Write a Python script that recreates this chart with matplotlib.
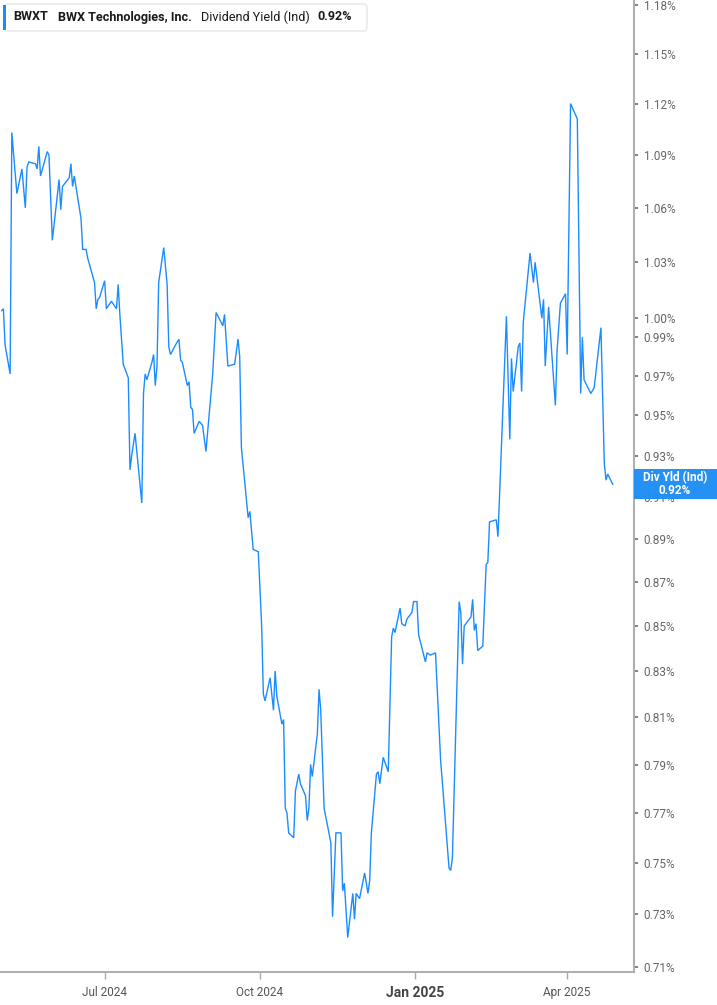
import pandas as pd
import matplotlib
matplotlib.use('Agg')
import matplotlib.pyplot as plt
import matplotlib.dates as mdates
from matplotlib.patches import Rectangle, FancyBboxPatch
from matplotlib.ticker import FixedLocator, NullLocator

# BWXT dividend yield (indicated)
dates = [
    '2024-05-01', '2024-05-02', '2024-05-03', '2024-05-06', '2024-05-07', '2024-05-10',
    '2024-05-13', '2024-05-15', '2024-05-16', '2024-05-17', '2024-05-21', '2024-05-22',
    '2024-05-23', '2024-05-24', '2024-05-28', '2024-05-29', '2024-05-31', '2024-06-04',
    '2024-06-05', '2024-06-06', '2024-06-10', '2024-06-11', '2024-06-12', '2024-06-13',
    '2024-06-17', '2024-06-18', '2024-06-20', '2024-06-21', '2024-06-25', '2024-06-26',
    '2024-06-27', '2024-06-28', '2024-07-01', '2024-07-02', '2024-07-05', '2024-07-08',
    '2024-07-09', '2024-07-10', '2024-07-12', '2024-07-15', '2024-07-16', '2024-07-17',
    '2024-07-19', '2024-07-23', '2024-07-24', '2024-07-25', '2024-07-26', '2024-07-29',
    '2024-07-30', '2024-07-31', '2024-08-01', '2024-08-02', '2024-08-05', '2024-08-07',
    '2024-08-08', '2024-08-09', '2024-08-12', '2024-08-14', '2024-08-15', '2024-08-16',
    '2024-08-19', '2024-08-20', '2024-08-21', '2024-08-22', '2024-08-23', '2024-08-26',
    '2024-08-28', '2024-08-30', '2024-09-03', '2024-09-05', '2024-09-09', '2024-09-10',
    '2024-09-12', '2024-09-16', '2024-09-18', '2024-09-19', '2024-09-20', '2024-09-24',
    '2024-09-25', '2024-09-27', '2024-09-30', '2024-10-02', '2024-10-03', '2024-10-04',
    '2024-10-07', '2024-10-09', '2024-10-10', '2024-10-11', '2024-10-14', '2024-10-15',
    '2024-10-16', '2024-10-17', '2024-10-18', '2024-10-21', '2024-10-22', '2024-10-24',
    '2024-10-25', '2024-10-28', '2024-10-29', '2024-10-30', '2024-10-31', '2024-11-01',
    '2024-11-04', '2024-11-05', '2024-11-06', '2024-11-08', '2024-11-12', '2024-11-13',
    '2024-11-15', '2024-11-18', '2024-11-19', '2024-11-20', '2024-11-22', '2024-11-25',
    '2024-11-26', '2024-11-27', '2024-11-29', '2024-12-02', '2024-12-04', '2024-12-05',
    '2024-12-06', '2024-12-09', '2024-12-10', '2024-12-11', '2024-12-13', '2024-12-16',
    '2024-12-18', '2024-12-19', '2024-12-20', '2024-12-23', '2024-12-24', '2024-12-26',
    '2024-12-27', '2024-12-30', '2024-12-31', '2025-01-02', '2025-01-03', '2025-01-07',
    '2025-01-08', '2025-01-10', '2025-01-13', '2025-01-16', '2025-01-21', '2025-01-22',
    '2025-01-23', '2025-01-27', '2025-01-28', '2025-01-29', '2025-01-30', '2025-02-03',
    '2025-02-04', '2025-02-05', '2025-02-06', '2025-02-07', '2025-02-10', '2025-02-12',
    '2025-02-13', '2025-02-14', '2025-02-18', '2025-02-19', '2025-02-20', '2025-02-24',
    '2025-02-26', '2025-02-27', '2025-02-28', '2025-03-03', '2025-03-04', '2025-03-05',
    '2025-03-06', '2025-03-10', '2025-03-12', '2025-03-13', '2025-03-17', '2025-03-18',
    '2025-03-19', '2025-03-21', '2025-03-25', '2025-03-26', '2025-03-28', '2025-03-31',
    '2025-04-01', '2025-04-03', '2025-04-07', '2025-04-09', '2025-04-10', '2025-04-11',
    '2025-04-15', '2025-04-17', '2025-04-21', '2025-04-23', '2025-04-24', '2025-04-25',
    '2025-04-28',
]
yields = [
    1.004, 1.005, 0.986, 0.971, 1.103, 1.068,
    1.082, 1.060, 1.083, 1.086, 1.085, 1.082,
    1.095, 1.078, 1.092, 1.090, 1.042, 1.076,
    1.059, 1.072, 1.077, 1.085, 1.072, 1.078,
    1.054, 1.037, 1.037, 1.032, 1.019, 1.005,
    1.010, 1.011, 1.020, 1.005, 1.009, 1.005,
    1.018, 1.002, 0.976, 0.969, 0.923, 0.930,
    0.941, 0.907, 0.961, 0.971, 0.968, 0.977,
    0.981, 0.965, 0.975, 1.019, 1.038, 1.018,
    0.985, 0.981, 0.986, 0.989, 0.978, 0.977,
    0.965, 0.967, 0.954, 0.953, 0.941, 0.947,
    0.945, 0.932, 0.971, 1.003, 0.996, 1.002,
    0.975, 0.976, 0.989, 0.980, 0.934, 0.900,
    0.903, 0.885, 0.884, 0.850, 0.820, 0.817,
    0.827, 0.813, 0.830, 0.819, 0.807, 0.809,
    0.772, 0.770, 0.762, 0.760, 0.779, 0.786,
    0.782, 0.777, 0.767, 0.772, 0.790, 0.785,
    0.803, 0.822, 0.813, 0.772, 0.758, 0.729,
    0.762, 0.762, 0.739, 0.742, 0.721, 0.738,
    0.728, 0.738, 0.736, 0.746, 0.738, 0.743,
    0.762, 0.786, 0.787, 0.782, 0.793, 0.787,
    0.845, 0.849, 0.847, 0.858, 0.851, 0.850,
    0.853, 0.856, 0.861, 0.861, 0.846, 0.834,
    0.838, 0.837, 0.838, 0.792, 0.748, 0.747,
    0.752, 0.861, 0.856, 0.833, 0.850, 0.854,
    0.862, 0.848, 0.851, 0.839, 0.841, 0.878,
    0.879, 0.898, 0.899, 0.891, 0.912, 1.001,
    0.938, 0.979, 0.962, 0.985, 0.987, 0.962,
    0.998, 1.035, 1.019, 1.030, 1.000, 1.010,
    0.975, 1.006, 0.955, 0.983, 1.008, 1.013,
    0.981, 1.120, 1.111, 0.961, 0.990, 0.968,
    0.961, 0.964, 0.995, 0.926, 0.918, 0.921,
    0.916,
]
ytick_vals = [0.71, 0.73, 0.75, 0.77, 0.79, 0.81, 0.83, 0.85, 0.87, 0.89, 0.91,
              0.93, 0.95, 0.97, 0.99, 1.00, 1.03, 1.06, 1.09, 1.12, 1.15, 1.18]
xtick_dates = ['2024-07-01', '2024-10-01', '2025-01-01', '2025-04-01']
xtick_labels = ['Jul 2024', 'Oct 2024', 'Jan 2025', 'Apr 2025']

plt.rcParams['font.family'] = ['Roboto', 'DejaVu Sans']

W, H = 717, 1005
fig = plt.figure(figsize=(W / 100, H / 100), dpi=100)
ax = fig.add_axes([0, 1 - 972 / H, 634 / W, 972 / H])

x = pd.to_datetime(dates)
ax.plot(x, yields, color='#1a8cff', lw=1.0, solid_joinstyle='miter')

ax.set_yscale('log')
ax.set_ylim(0.708, 1.183)
ax.set_xlim(pd.Timestamp('2024-04-30'), pd.Timestamp('2025-05-10 14:00'))

# y axis on the right
ax.yaxis.tick_right()
ax.yaxis.set_major_locator(FixedLocator(ytick_vals))
ax.yaxis.set_minor_locator(NullLocator())
ax.set_yticklabels([f'{v:.2f}%' for v in ytick_vals])
ax.tick_params(axis='y', which='both', length=3, width=1.3, color='#777777',
               labelcolor='#666666', labelsize=8.5, pad=4)

# x axis
ax.set_xticks(pd.to_datetime(xtick_dates))
ax.set_xticklabels(xtick_labels)
ax.tick_params(axis='x', length=5, width=1, color='#aaaaaa', labelcolor='#555555',
               labelsize=8.5, pad=5)
for lab in ax.get_xticklabels():
    if lab.get_text().startswith('Jan'):
        lab.set_fontweight('bold')
        lab.set_fontsize(10)
        lab.set_color('#444444')

for s in ['top', 'left']:
    ax.spines[s].set_visible(False)
for s in ['right', 'bottom']:
    ax.spines[s].set_color('#b0b0b0')
    ax.spines[s].set_linewidth(1.5)

# header box
hdr = FancyBboxPatch((4 / W, 1 - 31 / H), 363 / W, 27 / H,
                     boxstyle='round,pad=0,rounding_size=0.004',
                     transform=fig.transFigure, fc='white', ec='#e6e6e6', lw=1)
fig.add_artist(hdr)
fig.add_artist(Rectangle((3 / W, 1 - 30 / H), 3 / W, 25 / H, transform=fig.transFigure,
                         fc='#1a8cff', ec='none'))
ty = 1 - 17 / H
fs = 9.1
fig.text(13 / W, ty, 'BWXT', fontsize=fs, fontweight='bold', color='#1a1a1a', va='center')
fig.text(58 / W, ty, 'BWX Technologies, Inc.', fontsize=fs, fontweight='bold',
         color='#1a1a1a', va='center')
fig.text(201 / W, ty, 'Dividend Yield (Ind)', fontsize=fs, color='#1a1a1a', va='center')
fig.text(317 / W, ty, f'{yields[-1]:.2f}%', fontsize=fs, fontweight='bold',
         color='#1a1a1a', va='center')

# last value label on the right axis
fig.canvas.draw()
_, py = ax.transData.transform((mdates.date2num(x[-1]), yields[-1]))
cy = py / H
fig.add_artist(Rectangle((634 / W, cy - 15 / H), 83 / W, 30 / H, transform=fig.transFigure,
                         fc='#1e8ef5', ec='none', alpha=0.97, zorder=10))
fig.text(675 / W, cy, f'Div Yld (Ind)\n{yields[-1]:.2f}%', ha='center', va='center',
         color='white', fontsize=8.5, fontweight='bold', linespacing=1.0, zorder=11)

fig.savefig('out.png', dpi=100)
